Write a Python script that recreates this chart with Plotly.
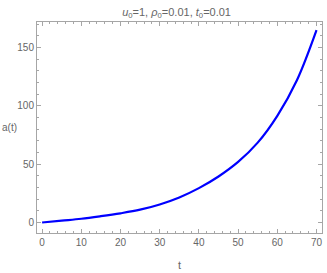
import plotly.graph_objects as go

t_vals = [0, 5, 10, 15, 20, 25, 30, 35, 40, 45, 50, 55, 60, 65, 70]
a_vals = [0, 1.6, 3.2, 5.4, 7.9, 11.0, 15.5, 21.5, 29.5, 39.5, 52.0, 68.5, 91.5, 122.0, 165.0]
x_ticks = [0, 10, 20, 30, 40, 50, 60, 70]
y_ticks = [0, 50, 100, 150]

title_text = "<i>u</i><sub>0</sub>=1, <i>ρ</i><sub>0</sub>=0.01, <i>t</i><sub>0</sub>=0.01"

gray = "#666666"
frame = "#a6a6a6"
font_family = "Liberation Sans, Arial, sans-serif"

fig = go.Figure()
fig.add_trace(go.Scatter(x=t_vals, y=a_vals, mode="lines",
                         line=dict(color="#0000ff", width=2.2, shape="spline", smoothing=1.0),
                         showlegend=False, hoverinfo="skip"))

axis_common = dict(showline=True, linecolor=frame, linewidth=1, mirror="ticks",
                   ticks="inside", ticklen=4, tickcolor=frame, tickwidth=1,
                   showgrid=False, zeroline=False,
                   tickfont=dict(family=font_family, size=10, color=gray))

fig.update_layout(
    width=327, height=273,
    margin=dict(l=37, r=5, t=22, b=40),
    paper_bgcolor="white", plot_bgcolor="white",
    title=dict(text=title_text, x=0.54, xanchor="center", y=0.955, yanchor="middle",
               font=dict(family=font_family, size=11, color=gray)),
    xaxis=dict(range=[-1.3, 71.4], tickvals=x_ticks,
               minor=dict(dtick=2, ticklen=2, ticks="inside", tickcolor=frame),
               **axis_common),
    yaxis=dict(range=[-9, 172], tickvals=y_ticks,
               minor=dict(dtick=10, ticklen=2, ticks="inside", tickcolor=frame),
               **axis_common),
    annotations=[
        dict(text="a(t)", x=0, xref="paper", xanchor="left", xshift=-37, y=0.5, yref="paper",
             yanchor="middle", showarrow=False,
             font=dict(family=font_family, size=10, color=gray)),
        dict(text="t", x=0.5, xref="paper", xanchor="center", y=0, yref="paper", yshift=-24,
             yanchor="top", showarrow=False,
             font=dict(family=font_family, size=11, color=gray)),
    ],
)

fig.write_html("out.html", config={"displayModeBar": False},
               post_script="document.body.style.margin='0';document.body.style.overflow='hidden';")
